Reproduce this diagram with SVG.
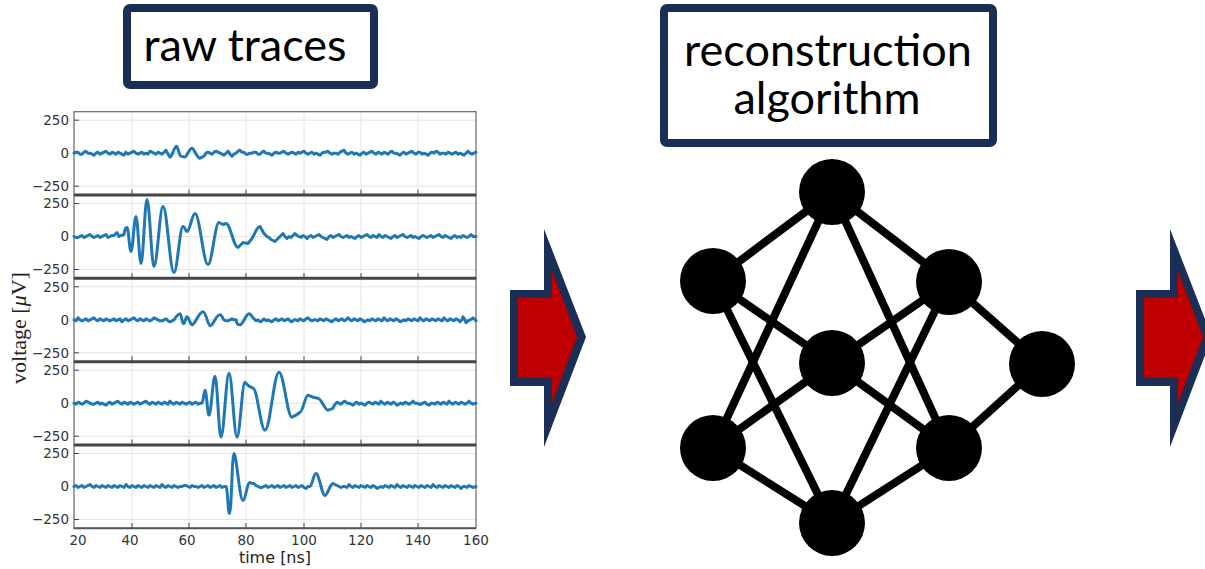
<svg xmlns="http://www.w3.org/2000/svg" xmlns:xlink="http://www.w3.org/1999/xlink" width="1205" height="569" viewBox="0 0 1205 569">
<style>
.box{fill:#fff;stroke:#1b2f56;stroke-width:8}
.hdr{font-family:Lato,"Open Sans",sans-serif;font-size:45px;fill:#000;text-anchor:middle}
.grid{stroke:#e4e4e4;stroke-width:1}
.frame{fill:none;stroke:#666;stroke-width:1.2}
.sep{stroke:#444;stroke-width:3}
.tick{stroke:#444;stroke-width:1}
.tl{font-family:"DejaVu Sans",sans-serif;font-size:13.5px;fill:#333}
.trace{fill:none;stroke:#1f77b4;stroke-width:3;stroke-linejoin:round;stroke-linecap:round}
.arrO{fill:#1b2f56}
.arrI{fill:#c00000}
.edge{stroke:#000;stroke-width:8}
.node{fill:#000}
</style>
<defs>
<g id="axes">
<line class="grid" x1="132" y1="0" x2="132" y2="83.3"/>
<line class="grid" x1="189" y1="0" x2="189" y2="83.3"/>
<line class="grid" x1="246" y1="0" x2="246" y2="83.3"/>
<line class="grid" x1="304" y1="0" x2="304" y2="83.3"/>
<line class="grid" x1="361" y1="0" x2="361" y2="83.3"/>
<line class="grid" x1="418" y1="0" x2="418" y2="83.3"/>
<line class="grid" x1="74" y1="8.5" x2="476" y2="8.5"/>
<line class="grid" x1="74" y1="41.5" x2="476" y2="41.5"/>
<line class="grid" x1="74" y1="74.5" x2="476" y2="74.5"/>
<rect class="frame" x="74" y="0" width="402" height="83.3"/>
<line class="tick" x1="74" y1="8.5" x2="79" y2="8.5"/>
<line class="tick" x1="74" y1="41.5" x2="79" y2="41.5"/>
<line class="tick" x1="74" y1="74.5" x2="79" y2="74.5"/>
<line class="tick" x1="132" y1="83.3" x2="132" y2="78"/>
<line class="tick" x1="189" y1="83.3" x2="189" y2="78"/>
<line class="tick" x1="246" y1="83.3" x2="246" y2="78"/>
<line class="tick" x1="304" y1="83.3" x2="304" y2="78"/>
<line class="tick" x1="361" y1="83.3" x2="361" y2="78"/>
<line class="tick" x1="418" y1="83.3" x2="418" y2="78"/>
<text class="tl" x="69" y="13.3" text-anchor="end">250</text>
<text class="tl" x="69" y="46.3" text-anchor="end">0</text>
<text class="tl" x="69" y="79.3" text-anchor="end">−250</text>
</g>
</defs>
<rect width="1205" height="569" fill="#fff"/>

<g id="raw-traces-label">
<rect class="box" x="127" y="8" width="247" height="77" rx="3"/>
<text class="hdr" x="245" y="61">raw traces</text>
</g>

<g id="reconstruction-label">
<rect class="box" x="664" y="8" width="329" height="135" rx="3"/>
<text class="hdr" x="828" y="66">reconstruction</text>
<text class="hdr" x="827" y="114">algorithm</text>
</g>

<g id="plot">
<use xlink:href="#axes" href="#axes" y="111.7"/>
<use xlink:href="#axes" href="#axes" y="195"/>
<use xlink:href="#axes" href="#axes" y="278.3"/>
<use xlink:href="#axes" href="#axes" y="361.7"/>
<use xlink:href="#axes" href="#axes" y="445"/>
<line class="sep" x1="74" y1="195" x2="476" y2="195"/>
<line class="sep" x1="74" y1="278.3" x2="476" y2="278.3"/>
<line class="sep" x1="74" y1="361.7" x2="476" y2="361.7"/>
<line class="sep" x1="74" y1="445" x2="476" y2="445"/>
<line x1="74" y1="528.3" x2="476" y2="528.3" stroke="#555" stroke-width="2"/>
<path class="trace" transform="translate(0,153.2)" d="M74,0 L76,-1 78,-1 80,1 82,1 84,-1 86,-2 88,0 90,0 92,1 94,2 96,0 98,-1 100,1 102,0 104,-1 106,-2 108,0 110,1 112,-1 114,0 116,1 118,-1 120,0 122,1 124,2 126,-1 128,1 130,0 132,-1 134,-2 136,0 138,1 140,0 142,-1 144,1 146,0 148,1 150,-2 152,-1 154,0 156,1 158,-1 160,0 162,1 164,-1 166,-3 168,1 170,4 C172,4 174,-6 176.5,-7 C178,-7 179,3 181,3 C183,3 184,5 186,3 C188,0 190,-5 192,-5 C194,-5 197,5 200,5 L204,3 206,0 208,-1 210,0 212,1 214,-1 216,-2 218,-1 220,0 222,1 224,2 226,0 228,-2 230,1 232,3 234,1 236,0 238,-2 240,-3 242,-1 244,-1 246,1 248,1 250,0 252,0 254,-1 256,-1 258,1 260,1 262,-1 264,-2 266,0 268,0 270,1 272,2 274,0 276,-1 278,0 280,0 282,-1 284,-2 286,0 288,1 290,0 292,-1 294,0 296,1 298,-1 300,0 302,-1 304,-2 306,0 308,1 310,0 312,-1 314,1 316,0 318,1 320,2 322,0 324,-1 326,-1 328,-2 330,0 332,1 334,0 336,0 338,1 340,-1 342,-2 344,-3 346,0 348,1 350,0 352,-1 354,1 356,0 358,1 360,2 362,0 364,-1 366,1 368,0 370,-1 372,-2 374,0 376,1 378,-1 380,0 382,1 384,-1 386,0 388,1 390,-1 392,-2 394,0 396,0 398,1 400,2 402,0 404,-1 406,1 408,0 410,-1 412,-2 414,0 416,1 418,-1 420,-1 422,1 424,0 426,1 428,2 430,0 432,-1 434,0 436,-2 438,-1 440,1 442,0 444,0 446,1 448,-1 450,0 452,1 454,0 456,-1 458,1 460,0 462,1 464,2 466,0 468,-2 470,0 472,1 474,0 476,-1"/>
<path class="trace" transform="translate(0,236.5)" d="M74,0 L76,1 78,1 80,0 82,-1 84,1 86,0 88,-1 90,-2 92,0 94,1 96,0 98,-1 100,1 102,0 104,-1 106,-2 108,1 110,0 112,-1 114,-1 116,-3 117,-4 119,0 121,-1 124,-2 C125,-9 126,-9 127,-9 C128.5,-9 129.5,15 131,15 C132.8,15 134.2,-20 136,-20 C137.8,-20 139.2,27 141,27 C143.2,27 144.8,-37 147,-37 C149.5,-37 151.5,30 154,30 C157.2,30 159.8,-30 163,-30 C167,-30 170,36 174,36 C177.2,36 179.8,-10 183,-10 C185,-10 185.5,-5 187,-5 C190,-5 192,-23 195,-23 C199.7,-23 203.3,28 208,28 C212,28 215,-14 219,-14 L223,-12 226,-13 C230.3,-13 233.7,11 238,11 L243,6 248,7 252,2 C255,-3 257,-10 260,-10 L264,-3 267,0 269,1 271,3 273,4 275,5 277,3 279,1 281,-1 283,-3 285,0 287,2 289,0 291,1 293,-1 295,-3 297,-1 299,0 301,1 303,-1 305,0 307,2 309,0 311,-1 313,1 315,0 317,-1 319,-2 321,0 323,1 325,2 327,3 329,0 331,-1 333,1 335,0 337,-1 339,-2 341,0 343,1 345,0 347,-1 349,1 351,0 353,1 355,2 357,0 359,-1 361,1 363,0 365,-1 367,-2 369,0 371,1 373,-1 375,0 377,1 379,-2 381,0 383,1 385,-1 387,0 389,1 391,2 393,0 395,-1 397,1 399,0 401,-1 403,-2 405,0 407,1 409,0 411,-1 413,1 415,0 417,1 419,2 421,0 423,-1 425,0 427,1 429,0 431,-1 433,1 435,0 437,-1 439,-2 441,0 443,1 445,-1 447,0 449,1 451,2 453,0 455,-1 457,1 459,0 461,1 463,-1 465,0 467,1 469,0 471,-2 473,0 476,0"/>
<path class="trace" transform="translate(0,319.8)" d="M74,0 L76,1 78,-2 80,0 82,1 84,0 86,-1 88,1 90,0 92,-1 94,-2 96,0 98,1 100,-1 102,0 104,1 106,-1 108,0 110,1 112,0 114,-1 116,1 118,0 120,-1 122,2 124,0 126,-1 128,1 130,0 132,-1 134,-2 136,0 138,1 140,-1 142,0 144,1 146,-1 148,0 150,1 152,0 154,-2 156,-1 158,0 160,1 162,1 164,0 166,-1 168,1 170,2 172,1 174,0 C176,-3 178,-6 180,-6 C181.5,-6 182,4 183.5,4 C185,4 185.5,-3 187,-3 C188.5,-3 190.5,5 192,5 C195,5 199,-8 203,-8 C206,-8 208,6 210,6 C213,6 216,-5 220,-5 C222,-5 223,0 224,0 L226,1 228,1 230,0 232,-1 234,0 236,0 C237,5 238,5 240,5 C243,5 246,-6 249,-6 C251,-6 252,-3 253,-2 L256,1 258,0 260,2 262,1 264,-1 266,1 268,0 270,1 272,2 274,0 276,-1 278,1 280,0 282,-1 284,1 286,0 288,-1 290,1 292,2 294,0 296,0 298,1 300,-1 302,0 304,1 306,-1 308,-2 310,0 312,1 314,0 316,0 318,1 320,-1 322,0 324,1 326,-1 328,0 330,1 332,2 334,0 336,-1 338,1 340,0 342,-1 344,1 346,0 348,-2 350,0 352,1 354,-1 356,0 358,1 360,-1 362,0 364,2 366,1 368,0 370,1 372,-1 374,0 376,1 378,-1 380,0 382,1 384,-2 386,0 388,1 390,-1 392,0 394,1 396,-1 398,0 400,2 402,1 404,0 406,1 408,-1 410,0 412,1 414,-1 416,0 418,1 420,-2 422,0 424,1 426,-1 428,0 430,1 432,-1 434,0 436,1 438,-1 440,0 442,1 444,-2 446,0 448,1 450,-1 452,0 454,1 456,-1 458,0 460,2 462,0 463,-3 465,0 466,3 468,1 470,0 472,-1 473,-2 475,0 476,1"/>
<path class="trace" transform="translate(0,403.2)" d="M74,0 L76,1 78,-1 80,0 82,1 84,0 86,-2 88,-1 90,0 92,1 94,1 96,0 98,-1 100,1 102,0 104,1 106,2 108,0 110,-1 112,1 114,0 116,-1 118,-2 120,0 122,1 124,-1 126,0 128,1 130,-1 132,0 134,1 136,0 138,-1 140,1 142,0 144,-1 146,-2 148,0 150,1 152,-1 154,0 156,1 158,-1 160,0 162,1 164,-1 166,0 168,1 170,-2 172,0 174,1 176,-1 178,0 180,1 182,-1 184,0 186,1 188,0 190,-1 192,1 194,0 196,-1 198,1 200,0 202,0 C203,0 204,-13 205,-13 C206.5,-13 207.5,12 209,12 C211.2,12 212.8,-27 215,-27 C217.2,-27 218.8,34 221,34 C223.9,34 226.1,-30 229,-30 C231.9,-30 234.1,34 237,34 C239.9,34 242.1,-21 245,-21 L249,-17 253,-15 C257.3,-15 260.7,27 265,27 C270,27 274,-31 279,-31 C283.7,-31 287.3,14 292,14 L296,12 300,9 C303,9 305,-8 308,-8 L313,-6 318,-5 C321,-5 325,7 328,7 L331,6 333,5 335,1 337,-1 339,0 341,1 343,-1 345,-2 347,0 349,0 351,1 353,2 355,0 357,-1 359,1 361,0 363,1 365,2 367,0 369,-1 371,0 373,1 375,-1 377,0 379,1 381,-2 383,0 385,1 387,-1 389,0 391,1 393,-1 395,0 397,2 399,1 401,0 403,1 405,-1 407,0 409,1 411,0 413,-2 415,0 417,0 419,1 421,1 423,0 425,-1 427,1 429,2 431,0 433,0 435,1 437,-1 439,0 441,1 443,-1 445,0 447,1 449,-2 451,0 453,1 455,-1 457,0 459,1 461,-1 463,0 465,1 467,0 469,-2 471,0 473,1 476,0"/>
<path class="trace" transform="translate(0,486.5)" d="M74,0 L76,-1 78,1 80,0 82,-1 84,1 86,0 88,-1 90,-2 92,0 94,1 96,-1 98,0 100,1 102,-1 104,0 106,1 108,-1 110,0 112,1 114,-1 116,0 118,1 120,-1 122,0 124,1 126,-2 128,0 130,1 132,-1 134,0 136,1 138,-1 140,0 142,1 144,-1 146,0 148,1 150,-1 152,0 154,1 156,-1 158,0 160,1 162,-2 164,0 166,1 168,-1 170,0 172,1 174,-1 176,0 178,1 180,0 182,0 184,-1 186,-1 188,0 190,1 192,-1 194,0 196,0 198,1 200,0 202,-1 204,1 206,0 208,-1 210,1 212,0 214,-1 216,1 218,0 220,-1 222,1 224,0 226,0 C227.5,0 228,27 229.5,27 C231.5,27 232,-33 234,-33 C236.5,-33 239.5,14 243,14 C245.5,14 247,-4 250,-4 L252,-3 254,-3 256,-1 258,0 260,1 262,1 264,0 266,-1 268,1 270,0 272,-1 274,1 276,0 278,-1 280,1 282,0 284,-1 286,1 288,0 290,-1 292,1 294,0 296,-1 298,1 300,0 302,-1 304,1 306,2 308,0 310,0 C312,0 313.5,-13 316,-13 C319,-13 322,9 325,9 C327.5,9 330,-3 333,-3 L335,-2 337,-1 339,0 341,1 343,0 345,0 347,1 349,-2 351,0 353,1 355,-1 357,0 359,1 361,-1 363,0 365,1 367,-1 369,0 371,1 373,-1 375,0 377,2 379,1 381,0 383,1 385,-1 387,0 389,1 391,-1 393,0 395,1 397,-2 399,0 401,1 403,-1 405,0 407,1 409,-1 411,0 413,1 415,-1 417,0 419,1 421,-1 423,0 425,1 427,-1 429,0 431,1 433,-2 435,0 437,1 439,-1 441,0 443,1 445,-1 447,0 449,1 451,-1 453,0 455,1 457,-1 459,0 461,2 463,0 465,0 467,1 469,-1 471,0 473,1 476,0"/>
<g class="tl" text-anchor="middle">
<text x="78" y="545">20</text>
<text x="130" y="545">40</text>
<text x="187" y="545">60</text>
<text x="246" y="545">80</text>
<text x="304" y="545">100</text>
<text x="361" y="545">120</text>
<text x="418" y="545">140</text>
<text x="476" y="545">160</text>
</g>
<text x="275" y="563" font-family="DejaVu Sans, sans-serif" font-size="16" fill="#222" text-anchor="middle">time [ns]</text>
<text transform="translate(26,328) rotate(-90)" font-family="Liberation Serif, serif" font-size="22" fill="#222" text-anchor="middle">voltage [<tspan font-style="italic">μ</tspan>V]</text>
</g>

<g id="arrow-1">
<polygon class="arrO" points="510,290 544,290 544,229 586,337 544,447 544,386 510,386"/>
<polygon class="arrI" points="518,298 552,298 552,271 577,337 552,403 552,378 518,378"/>
</g>
<g id="arrow-2">
<polygon class="arrO" points="1136,290 1170,290 1170,229 1212,337 1170,447 1170,386 1136,386"/>
<polygon class="arrI" points="1144,298 1178,298 1178,271 1203,337 1178,403 1178,378 1144,378"/>
</g>

<g id="connectors">
<line class="edge" x1="832" y1="192" x2="713" y2="281"/>
<line class="edge" x1="832" y1="192" x2="949" y2="282"/>
<line class="edge" x1="832" y1="192" x2="713" y2="448"/>
<line class="edge" x1="832" y1="192" x2="949" y2="448"/>
<line class="edge" x1="713" y1="281" x2="832" y2="363"/>
<line class="edge" x1="713" y1="281" x2="832" y2="523"/>
<line class="edge" x1="949" y1="282" x2="832" y2="363"/>
<line class="edge" x1="949" y1="282" x2="832" y2="523"/>
<line class="edge" x1="949" y1="282" x2="1042" y2="364"/>
<line class="edge" x1="832" y1="363" x2="713" y2="448"/>
<line class="edge" x1="832" y1="363" x2="949" y2="448"/>
<line class="edge" x1="713" y1="448" x2="832" y2="523"/>
<line class="edge" x1="949" y1="448" x2="832" y2="523"/>
<line class="edge" x1="949" y1="448" x2="1042" y2="364"/>
</g>
<g id="node-top"><circle class="node" cx="832" cy="192" r="33"/></g>
<g id="node-left-upper"><circle class="node" cx="713" cy="281" r="33"/></g>
<g id="node-right-upper"><circle class="node" cx="949" cy="282" r="33"/></g>
<g id="node-middle"><circle class="node" cx="832" cy="363" r="33"/></g>
<g id="node-output"><circle class="node" cx="1042" cy="364" r="33"/></g>
<g id="node-left-lower"><circle class="node" cx="713" cy="448" r="33"/></g>
<g id="node-right-lower"><circle class="node" cx="949" cy="448" r="33"/></g>
<g id="node-bottom"><circle class="node" cx="832" cy="523" r="33"/></g>
</svg>
